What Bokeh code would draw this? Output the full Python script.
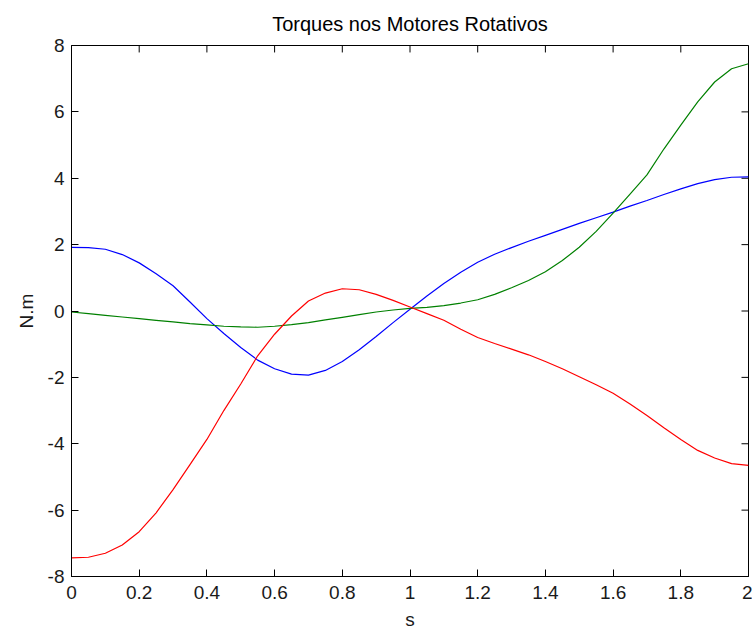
from bokeh.plotting import figure
from bokeh.models import FixedTicker, Range1d
from bokeh.embed import file_html
from bokeh.resources import INLINE

t = [0.0, 0.05, 0.1, 0.15, 0.2, 0.25, 0.3, 0.35, 0.4, 0.45, 0.5, 0.55, 0.6, 0.65, 0.7,
     0.75, 0.8, 0.85, 0.9, 0.95, 1.0, 1.05, 1.1, 1.15, 1.2, 1.25, 1.3, 1.35, 1.4, 1.45,
     1.5, 1.55, 1.6, 1.65, 1.7, 1.75, 1.8, 1.85, 1.9, 1.95, 2.0]

torque_blue = [1.92, 1.91, 1.86, 1.70, 1.45, 1.12, 0.76, 0.27, -0.23, -0.68, -1.10, -1.48,
               -1.74, -1.90, -1.93, -1.79, -1.52, -1.17, -0.77, -0.35, 0.05, 0.45, 0.83,
               1.17, 1.47, 1.71, 1.91, 2.10, 2.28, 2.46, 2.64, 2.81, 2.98, 3.16, 3.33,
               3.51, 3.68, 3.84, 3.96, 4.03, 4.04]

torque_green = [-0.03, -0.08, -0.13, -0.18, -0.23, -0.28, -0.33, -0.38, -0.42, -0.46,
                -0.48, -0.49, -0.46, -0.41, -0.35, -0.27, -0.19, -0.11, -0.03, 0.03,
                0.08, 0.11, 0.16, 0.24, 0.34, 0.50, 0.70, 0.92, 1.18, 1.52, 1.92, 2.40,
                2.95, 3.52, 4.10, 4.88, 5.60, 6.30, 6.90, 7.30, 7.45]

torque_red = [-7.44, -7.42, -7.30, -7.05, -6.65, -6.08, -5.38, -4.63, -3.87, -3.00, -2.20,
              -1.35, -0.70, -0.15, 0.30, 0.54, 0.67, 0.64, 0.50, 0.32, 0.12, -0.08, -0.28,
              -0.55, -0.80, -0.98, -1.15, -1.32, -1.52, -1.74, -1.98, -2.22, -2.48, -2.80,
              -3.15, -3.52, -3.87, -4.20, -4.43, -4.60, -4.65]

x_ticks = [0, 0.2, 0.4, 0.6, 0.8, 1.0, 1.2, 1.4, 1.6, 1.8, 2.0]
y_ticks = [-8, -6, -4, -2, 0, 2, 4, 6, 8]
x_labels = {0: "0", 0.2: "0.2", 0.4: "0.4", 0.6: "0.6", 0.8: "0.8", 1.0: "1", 1.2: "1.2",
            1.4: "1.4", 1.6: "1.6", 1.8: "1.8", 2.0: "2"}
y_labels = {-8: "-8", -6: "-6", -4: "-4", -2: "-2", 0: "0", 2: "2", 4: "4", 6: "6", 8: "8"}

X_MIN, X_MAX = 0, 2
Y_MIN, Y_MAX = -8, 8

W, H = 752, 632
B_LEFT, B_RIGHT, B_TOP, B_BOTTOM = 71, 4, 44, 54
TICK_PX = 7

FONT = "Liberation Sans"
TICK_SIZE = "19px"

p = figure(width=W, height=H, output_backend="svg", toolbar_location=None,
           x_range=Range1d(X_MIN, X_MAX), y_range=Range1d(Y_MIN, Y_MAX),
           title="Torques nos Motores Rotativos",
           min_border_left=B_LEFT, min_border_right=B_RIGHT,
           min_border_top=B_TOP, min_border_bottom=B_BOTTOM)

p.title.align = "center"
p.title.text_font = FONT
p.title.text_font_size = "20px"
p.title.text_font_style = "normal"
p.title.text_color = "#000000"
p.title.offset = 0
p.title.standoff = 21

p.background_fill_color = "white"
p.border_fill_color = "white"
p.outline_line_color = "#000000"
p.outline_line_width = 1
p.grid.visible = False

for ax in [p.xaxis[0], p.yaxis[0]]:
    ax.major_label_text_font = FONT
    ax.major_label_text_font_size = TICK_SIZE
    ax.major_label_text_color = "#1a1a1a"
    ax.axis_label_text_font = FONT
    ax.axis_label_text_font_size = TICK_SIZE
    ax.axis_label_text_font_style = "normal"
    ax.axis_label_text_color = "#1a1a1a"
    ax.major_tick_in = TICK_PX
    ax.major_tick_out = 0
    ax.minor_tick_line_color = None
    ax.axis_line_color = "#000000"
    ax.major_tick_line_color = "#000000"

p.xaxis[0].ticker = FixedTicker(ticks=x_ticks)
p.xaxis[0].major_label_overrides = x_labels
p.xaxis[0].axis_label = "s"
p.xaxis[0].major_label_standoff = 9
p.xaxis[0].axis_label_standoff = 7

p.yaxis[0].ticker = FixedTicker(ticks=y_ticks)
p.yaxis[0].major_label_overrides = y_labels
p.yaxis[0].axis_label = "N.m"
p.yaxis[0].major_label_standoff = 7
p.yaxis[0].axis_label_standoff = 8

# inward tick marks on the top and right edges of the box
frame_w = W - B_LEFT - B_RIGHT
frame_h = H - B_TOP - B_BOTTOM
dy = TICK_PX * (Y_MAX - Y_MIN) / frame_h
dx = TICK_PX * (X_MAX - X_MIN) / frame_w
p.segment(x0=x_ticks, y0=[Y_MAX] * len(x_ticks), x1=x_ticks, y1=[Y_MAX - dy] * len(x_ticks),
          line_color="#000000", line_width=1)
p.segment(x0=[X_MAX] * len(y_ticks), y0=y_ticks, x1=[X_MAX - dx] * len(y_ticks), y1=y_ticks,
          line_color="#000000", line_width=1)

p.line(t, torque_blue, line_color="#0000ff", line_width=1.2)
p.line(t, torque_green, line_color="#008000", line_width=1.2)
p.line(t, torque_red, line_color="#ff0000", line_width=1.2)

open("out.html", "w").write(file_html(p, INLINE))
